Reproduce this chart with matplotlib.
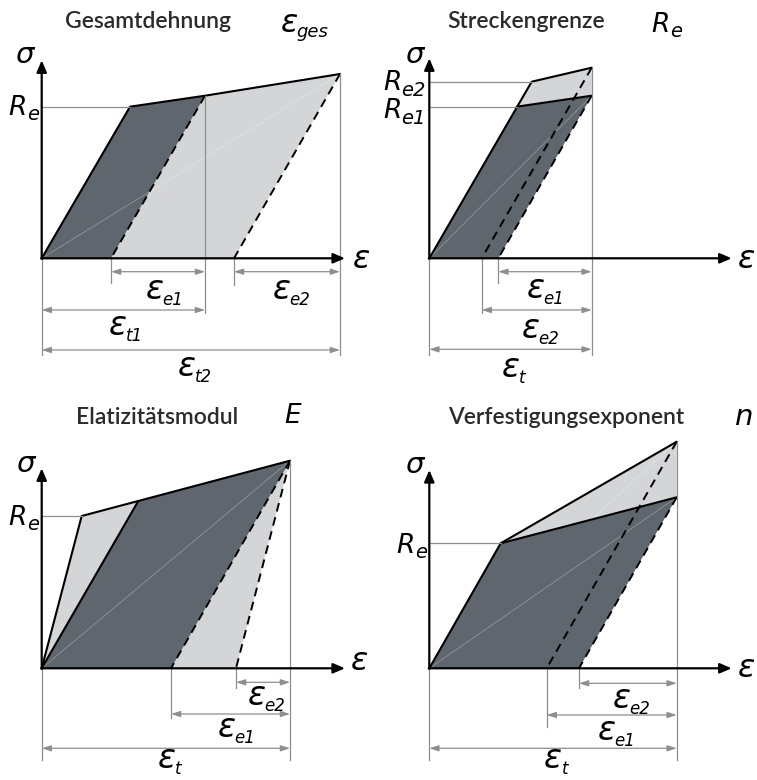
import matplotlib
matplotlib.use('Agg')
import matplotlib.pyplot as plt
from matplotlib.patches import Polygon

W, H = 757, 780
fig = plt.figure(figsize=(W / 100, H / 100), dpi=100)

DARK = '#5f666e'
LIGHT = '#d4d5d7'
GRAY = '#8e8e8e'
TXT = '#2b2b2b'
SYM = dict(family='DejaVu Sans', style='italic', color='black')

# ---------------- data (strain / stress in drawing units, origin = 0) ----------------
# Panel 1: Gesamtdehnung
p1_strain = [0, 88.3, 163.3, 298.3]        # origin, R_e, unload point 1, end point 2
p1_stress = [0, 151.6, 162.6, 184.3]
p1_residual = [69.3, 192.3]                # plastic residual strain after unloading 1 / 2

# Panel 2: Streckengrenze
p2_strain = [0, 87.4, 102.4, 162.4, 162.4]  # origin, R_e1, R_e2, end 1, end 2
p2_stress = [0, 151.6, 176.6, 162.6, 190.6]
p2_residual = [69.0, 52.4]

# Panel 3: Elastizitaetsmodul
p3_strain = [0, 40.0, 96.6, 248.3]          # origin, R_e (steep E), yield (flat E), end
p3_stress = [0, 152.3, 167.3, 207.6]
p3_residual = [129.3, 194.3]                # flat E / steep E

# Panel 4: Verfestigungsexponent
p4_strain = [0, 71.4, 247.4, 247.4]         # origin, R_e, end 1 (low n), end 2 (high n)
p4_stress = [0, 125.0, 171.0, 226.6]
p4_residual = [149.7, 117.4]

titles = ['Gesamtdehnung', 'Streckengrenze', 'Elatizitätsmodul', 'Verfestigungsexponent']


def panel(ox, oy):
    ax = fig.add_axes([0, 0, 1, 1])
    ax.set_xlim(-ox, W - ox)
    ax.set_ylim(oy - H, oy)
    ax.axis('off')
    ax.patch.set_alpha(0)
    return ax


def poly(ax, pts, color, z=1):
    ax.add_patch(Polygon(pts, closed=True, facecolor=color, edgecolor='none', zorder=z))


def solid(ax, xs, ys, z=4):
    ax.plot(xs, ys, color='black', lw=1.5, zorder=z, solid_capstyle='round', solid_joinstyle='round')


def dashed(ax, x0, y0, x1, y1, z=4):
    ax.plot([x0, x1], [y0, y1], color='black', lw=1.4, ls=(0, (4.5, 3)), zorder=z)


def faint(ax, x1, y1, z=3):
    ax.plot([0, x1], [0, y1], color='white', lw=0.6, alpha=0.3, zorder=z)


def axes_arrows(ax, xmax, ymax):
    props = dict(arrowstyle='-|>,head_length=0.7,head_width=0.3', lw=1.6, color='black',
                 shrinkA=0, shrinkB=0)
    ax.annotate('', xy=(xmax, 0), xytext=(-0.5, 0), arrowprops=props, zorder=6)
    ax.annotate('', xy=(0, ymax), xytext=(0, -0.5), arrowprops=props, zorder=6)


def vline(ax, x, y0, y1):
    ax.plot([x, x], [y0, y1], color=GRAY, lw=0.9, zorder=5)


def hline(ax, y, x0, x1):
    ax.plot([x0, x1], [y, y], color=GRAY, lw=0.9, zorder=5)


def dim(ax, x0, x1, y):
    ax.annotate('', xy=(x1, y), xytext=(x0, y),
                arrowprops=dict(arrowstyle='<|-|>,head_length=0.55,head_width=0.18', lw=0.9,
                                color=GRAY, shrinkA=0, shrinkB=0), zorder=5)


def sym_sub(ax, x, y, main, sub, size=24, subsize=12, dy=-6, gap=-1):
    ax.text(x, y, main, fontsize=size, ha='right', va='baseline', **SYM)
    ax.text(x + gap, y + dy, sub, fontsize=subsize, ha='left', va='baseline', **SYM)


def title(ax, x, y, txt):
    ax.text(x, y, txt, fontsize=16.5, family='Lato', weight='semibold', color=TXT,
            ha='center', va='baseline')


# ======================= Panel 1 =======================
ax = panel(41.7, 258.3)
e, s, r = p1_strain, p1_stress, p1_residual
poly(ax, [(r[0], 0), (e[2], s[2]), (e[3], s[3]), (r[1], 0)], LIGHT)
poly(ax, [(0, 0), (e[1], s[1]), (e[2], s[2]), (r[0], 0)], DARK)
faint(ax, e[3], s[3])
solid(ax, e, s)
dashed(ax, e[2], s[2], r[0], 0)
dashed(ax, e[3], s[3], r[1], 0)
hline(ax, s[1], 0, e[1])
vline(ax, e[2], s[2], -55)
vline(ax, e[3], s[3], -97)
vline(ax, 0, 0, -97)
vline(ax, r[0], 0, -25)
vline(ax, r[1], 0, -27)
dim(ax, r[0], e[2], -13.4)
dim(ax, r[1], e[3], -13.4)
dim(ax, 0, e[2], -51.7)
dim(ax, 0, e[3], -91.7)
axes_arrows(ax, 303.3, 198)
sym_sub(ax, 122, -40.7, 'ε', 'e1')
sym_sub(ax, 249, -40.7, 'ε', 'e2')
sym_sub(ax, 85, -76.7, 'ε', 't1')
sym_sub(ax, 154, -118, 'ε', 't2')
ax.text(-17.7, 195, 'σ', fontsize=21, ha='center', va='baseline', **SYM)
ax.text(319.3, -9.7, 'ε', fontsize=23, ha='center', va='baseline', **SYM)
sym_sub(ax, -15, 143.3, 'R', 'e', size=19, subsize=14, dy=-5, gap=0)
title(ax, 147.5 - 41.7, 258.3 - 28.3, titles[0])
sym_sub(ax, 256, 226.6, 'ε', 'ges', size=23, subsize=13, dy=-5)

# ======================= Panel 2 =======================
ax = panel(429.3, 258.3)
e, s, r = p2_strain, p2_stress, p2_residual
poly(ax, [(0, 0), (e[2], s[2]), (e[4], s[4]), (e[3], s[3]), (r[0], 0)], LIGHT)
poly(ax, [(0, 0), (e[1], s[1]), (e[3], s[3]), (r[0], 0)], DARK)
faint(ax, e[3], s[3])
solid(ax, [e[0], e[2], e[4]], [s[0], s[2], s[4]])
solid(ax, [e[1], e[3]], [s[1], s[3]])
dashed(ax, e[3], s[3], r[0], 0)
dashed(ax, e[4], s[4], r[1], 0)
hline(ax, s[2], 0, e[2])
hline(ax, s[1], 0, e[1])
vline(ax, e[4], s[4], -97)
vline(ax, 0, 0, -97)
vline(ax, r[0], 0, -25)
vline(ax, r[1], 0, -55)
dim(ax, r[0], e[3], -13.4)
dim(ax, r[1], e[3], -51.7)
dim(ax, 0, e[3], -91)
axes_arrows(ax, 302.4, 200)
sym_sub(ax, 115, -39.7, 'ε', 'e1')
sym_sub(ax, 110, -79.7, 'ε', 'e2')
sym_sub(ax, 90, -118.7, 'ε', 't', gap=0)
ax.text(-15.3, 195, 'σ', fontsize=21, ha='center', va='baseline', **SYM)
ax.text(317.5, -9.7, 'ε', fontsize=23, ha='center', va='baseline', **SYM)
sym_sub(ax, -28, 168.3, 'R', 'e2', size=19, subsize=14, dy=-6, gap=0)
sym_sub(ax, -28, 140, 'R', 'e1', size=19, subsize=14, dy=-6, gap=0)
title(ax, 526 - 429.3, 258.3 - 28.3, titles[1])
sym_sub(ax, 670 - 429.3, 258.3 - 31.7, 'R', 'e', size=19, subsize=14, dy=-5, gap=0)

# ======================= Panel 3 =======================
ax = panel(41.7, 668.3)
e, s, r = p3_strain, p3_stress, p3_residual
poly(ax, [(0, 0), (e[1], s[1]), (e[3], s[3]), (r[1], 0)], LIGHT)
poly(ax, [(0, 0), (e[2], s[2]), (e[3], s[3]), (r[0], 0)], DARK)
faint(ax, e[3], s[3])
solid(ax, [e[0], e[1], e[3]], [s[0], s[1], s[3]])
solid(ax, [e[0], e[2]], [s[0], s[2]])
dashed(ax, e[3], s[3], r[0], 0)
dashed(ax, e[3], s[3], r[1], 0)
hline(ax, s[1], 0, e[1])
vline(ax, e[3], s[3], -92)
vline(ax, 0, 0, -92)
vline(ax, r[0], 0, -50)
vline(ax, r[1], 0, -20)
dim(ax, r[1], e[3], -14)
dim(ax, r[0], e[3], -45.7)
dim(ax, 0, e[3], -80)
axes_arrows(ax, 303.3, 200)
sym_sub(ax, 223.5, -36.7, 'ε', 'e2')
sym_sub(ax, 193.5, -68.7, 'ε', 'e1')
sym_sub(ax, 133.5, -99.5, 'ε', 't', gap=0)
ax.text(-16.7, 196.6, 'σ', fontsize=21, ha='center', va='baseline', **SYM)
ax.text(317.3, -1.6, 'ε', fontsize=23, ha='center', va='baseline', **SYM)
sym_sub(ax, -15, 143.3, 'R', 'e', size=19, subsize=14, dy=-5, gap=0)
title(ax, 156.7 - 41.7, 668.3 - 424, titles[2])
ax.text(293 - 41.7, 668.3 - 423.3, 'E', fontsize=19, ha='center', va='baseline', **SYM)

# ======================= Panel 4 =======================
ax = panel(429.3, 668.3)
e, s, r = p4_strain, p4_stress, p4_residual
poly(ax, [(0, 0), (e[1], s[1]), (e[3], s[3]), (e[2], s[2]), (r[0], 0)], LIGHT)
faint(ax, e[3], s[3], z=1.5)
poly(ax, [(0, 0), (e[1], s[1]), (e[2], s[2]), (r[0], 0)], DARK, z=2)
faint(ax, e[2], s[2])
solid(ax, [e[0], e[1], e[3]], [s[0], s[1], s[3]])
solid(ax, [e[1], e[2]], [s[1], s[2]])
dashed(ax, e[3], s[3], r[1], 0)
dashed(ax, e[2], s[2], r[0], 0)
hline(ax, s[1], 0, e[1])
vline(ax, e[3], s[3], -92)
vline(ax, 0, 0, -92)
vline(ax, r[1], 0, -58.4)
vline(ax, r[0], 0, -20)
dim(ax, r[0], e[2], -15)
dim(ax, r[1], e[2], -46.7)
dim(ax, 0, e[2], -80)
axes_arrows(ax, 302.4, 198.3)
sym_sub(ax, 201, -40.2, 'ε', 'e2')
sym_sub(ax, 186, -71.7, 'ε', 'e1')
sym_sub(ax, 132.5, -99.5, 'ε', 't', gap=0)
ax.text(-15.3, 195, 'σ', fontsize=21, ha='center', va='baseline', **SYM)
ax.text(317.5, -8.4, 'ε', fontsize=23, ha='center', va='baseline', **SYM)
sym_sub(ax, -14.5, 115, 'R', 'e', size=19, subsize=14, dy=-5, gap=0)
title(ax, 566 - 429.3, 668.3 - 424, titles[3])
ax.text(744 - 429.3, 668.3 - 425, 'n', fontsize=21, ha='center', va='baseline', **SYM)

fig.savefig('out.png', dpi=100)
